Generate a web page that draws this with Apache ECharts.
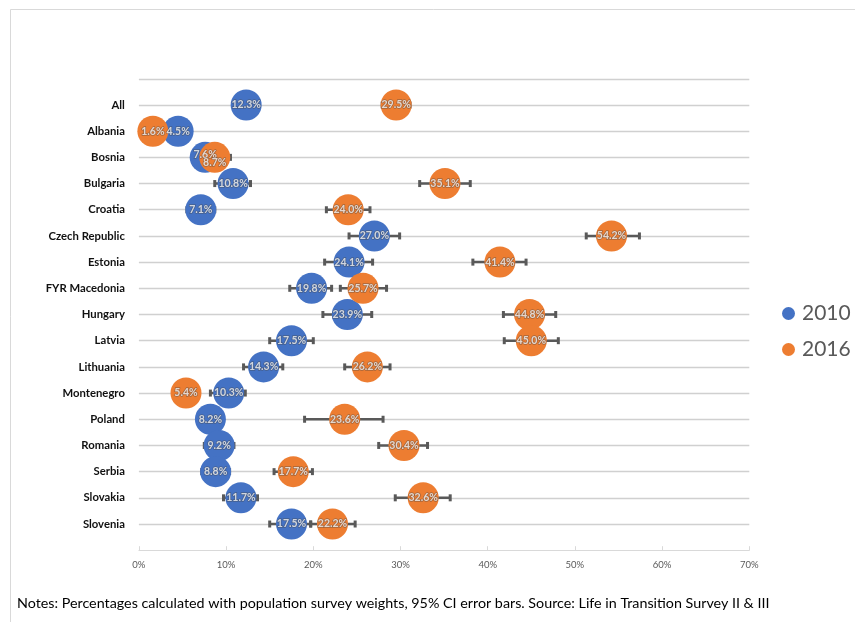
<!DOCTYPE html>
<html><head><meta charset="utf-8">
<script src="https://cdn.jsdelivr.net/npm/echarts@6/dist/echarts.min.js"></script>
<style>html,body{margin:0;padding:0;background:#fff}#chart{width:855px;height:622px}</style>
</head><body><div id="chart"></div>
<script>
const countries = ['All','Albania','Bosnia','Bulgaria','Croatia','Czech Republic','Estonia','FYR Macedonia','Hungary','Latvia','Lithuania','Montenegro','Poland','Romania','Serbia','Slovakia','Slovenia'];
const values2010 = [12.3,4.5,7.6,10.8,7.1,27.0,24.1,19.8,23.9,17.5,14.3,10.3,8.2,9.2,8.8,11.7,17.5];
const values2016 = [29.5,1.6,8.7,35.1,24.0,54.2,41.4,25.7,44.8,45.0,26.2,5.4,23.6,30.4,17.7,32.6,22.2];
const ciLow2010  = [11.0,3.5,6.4,8.7,5.5,24.1,21.3,17.3,21.1,15.0,12.0,8.2,7.0,7.5,7.2,9.7,15.0];
const ciHigh2010 = [13.6,5.5,8.8,12.8,8.7,29.9,26.8,22.1,26.7,20.0,16.5,12.2,9.4,10.9,10.4,13.6,19.7];
const ciLow2016  = [27.9,0.8,6.9,32.2,21.5,51.3,38.3,23.1,41.8,41.9,23.6,4.0,19.0,27.5,15.5,29.4,19.7];
const ciHigh2016 = [31.1,2.4,10.5,38.0,26.5,57.4,44.4,28.4,47.8,48.1,28.8,6.8,28.0,33.1,19.9,35.7,24.8];
const xTickLabels = ['0%','10%','20%','30%','40%','50%','60%','70%'];
const seriesNames = ['2010','2016'];
const noteText = 'Notes: Percentages calculated with population survey weights, 95% CI error bars. Source: Life in Transition Survey II & III';

const FONT = 'Lato';
const n = countries.length;
const yOf = i => n - i;

function errData(lo, hi){ return lo.map((l,i)=>[l, hi[i], yOf(i)]); }
function renderErr(params, api){
  const y = api.value(2);
  const p1 = api.coord([api.value(0), y]);
  const p2 = api.coord([api.value(1), y]);
  const st = {fill:'#595959', stroke:null};
  return {type:'group', children:[
    {type:'line', shape:{x1:p1[0],y1:p1[1],x2:p2[0],y2:p2[1]}, style:{stroke:'#595959', lineWidth:2.5}},
    {type:'rect', shape:{x:p1[0]-1.5,y:p1[1]-3.5,width:3,height:7}, style:st},
    {type:'rect', shape:{x:p2[0]-1.5,y:p2[1]-3.5,width:3,height:7}, style:st}
  ]};
}
const labelOffsets2010 = {2:[0,-3]};
const labelOffsets2016 = {2:[0,5]};
function pointData(vals){ return vals.map((v,i)=>[v, yOf(i)]); }
function labelData(vals, offs){
  return vals.map((v,i)=>{
    const d = {value:[v, yOf(i)]};
    if (offs[i]) d.label = {offset: offs[i]};
    return d;
  });
}
const labelStyle = {
  show:true, position:'inside', formatter: p => p.value[0].toFixed(1) + '%',
  color:'#f4f4f4', fontSize:10.5, fontWeight:'bold', fontFamily:FONT,
  textBorderColor:'rgba(70,70,70,0.55)', textBorderWidth:1.5
};

const chart = echarts.init(document.getElementById('chart'));
chart.setOption({
  animation:false,
  backgroundColor:'#fff',
  grid:{left:138.9, right:105.7, top:78.8, bottom:71.8},
  xAxis:{type:'value', min:0, max:70, interval:10,
    axisLine:{show:true, lineStyle:{color:'#d9d9d9', width:1}},
    axisTick:{show:true, inside:true, length:4, lineStyle:{color:'#d9d9d9'}},
    splitLine:{show:false},
    axisLabel:{formatter: v => xTickLabels[v/10], color:'#595959', fontSize:9.5, fontFamily:FONT, margin:10}
  },
  yAxis:{type:'value', min:0, max:n+1, interval:1,
    axisLine:{show:false}, axisTick:{show:false},
    splitLine:{show:true, showMinLine:false, lineStyle:{color:'#d0d0d0', width:1.3}},
    axisLabel:{formatter: v => (v>=1 && v<=n) ? countries[n-v] : '', color:'#111', fontSize:11.3, fontWeight:'bold', fontFamily:FONT, margin:14}
  },
  legend:{orient:'vertical', left:777, top:298, itemGap:15, itemWidth:13, itemHeight:13, icon:'circle',
    data:seriesNames, textStyle:{fontSize:21, color:'#595959', fontFamily:FONT, padding:[0,0,0,2]}},
  series:[
    {type:'custom', name:'err2010', renderItem:renderErr, data:errData(ciLow2010, ciHigh2010), encode:{x:[0,1], y:2}, z:1, silent:true},
    {type:'custom', name:'err2016', renderItem:renderErr, data:errData(ciLow2016, ciHigh2016), encode:{x:[0,1], y:2}, z:1, silent:true},
    {type:'scatter', name:seriesNames[0], symbolSize:31, itemStyle:{color:'#4472C4', opacity:1}, data:pointData(values2010), z:2},
    {type:'scatter', name:seriesNames[1], symbolSize:31, itemStyle:{color:'#ED7D31', opacity:1}, data:pointData(values2016), z:3},
    {type:'scatter', name:'lab2010', symbolSize:1, itemStyle:{color:'rgba(0,0,0,0)'}, data:labelData(values2010, labelOffsets2010), label:labelStyle, z:5, silent:true},
    {type:'scatter', name:'lab2016', symbolSize:1, itemStyle:{color:'rgba(0,0,0,0)'}, data:labelData(values2016, labelOffsets2016), label:labelStyle, z:6, silent:true}
  ],
  graphic:[
    {type:'rect', left:8, top:7, shape:{width:880, height:700}, style:{fill:null, stroke:'#d9d9d9', lineWidth:1}, z:-10},
    {type:'text', left:17, top:596, style:{text:noteText, fontSize:14.3, fontFamily:FONT, fill:'#000'}}
  ]
});
</script></body></html>
